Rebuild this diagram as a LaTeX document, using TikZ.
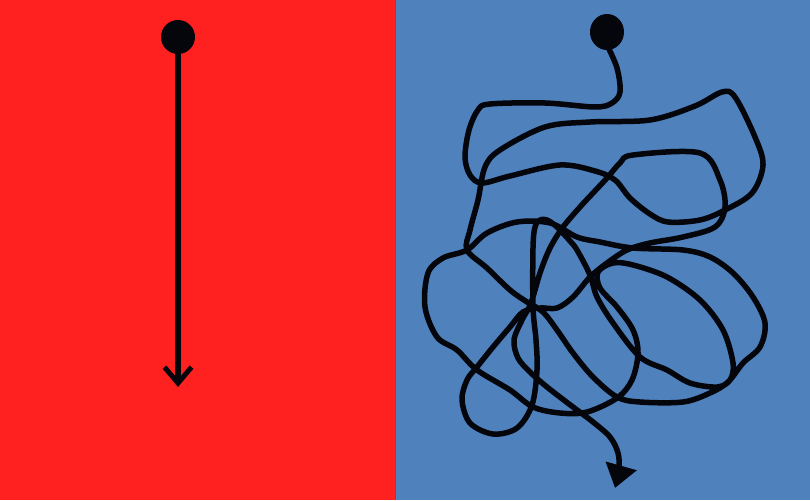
\documentclass[tikz,border=0pt]{standalone}
\usetikzlibrary{arrows.meta,shapes.geometric}
\definecolor{panelred}{RGB}{255,32,32}
\definecolor{panelblue}{RGB}{79,129,189}
\definecolor{ink}{RGB}{5,5,12}
\begin{document}
\begin{tikzpicture}[x=1pt,y=-1pt,
  dot/.style={circle,fill=ink,inner sep=0pt,minimum size=34pt},
  scribble/.style={line width=5.5pt,draw=ink,line join=round}]
\useasboundingbox (0,0) rectangle (810,500);
\fill[panelred] (0,0) rectangle (395,500);
\fill[panelblue] (395,0) rectangle (810,500);
\draw[gray!70!black,line width=1pt] (395,0) -- (395,500);
% left: straight route
\node[dot] (rdot) at (178,37) {};
\coordinate (rend) at (178,387);
\draw[scribble,-{Straight Barb[length=16pt,width=27pt,line width=5pt]}] (rdot.south) -- (rend);
% right: tangled route
\node[ellipse,fill=ink,inner sep=0pt,minimum width=34pt,minimum height=36pt] (bdot) at (607,32) {};
\draw[scribble,-{Triangle[length=23pt,width=31pt]}] plot[smooth,tension=0.55] coordinates {
(607,45) (617,68) (620,92) (612,103) (595,107) (545,103) (490,104) (478,110) (469,130) (465,157) (470,175) (482,183)
(510,176) (560,165) (595,171) (615,180) (630,198) (650,214) (668,222) (700,220) (725,210) (752,193) (763,165) (755,137) (735,97) (722,92) (695,106) (650,120) (590,122) (545,127) (500,150) (485,167) (478,200) (470,230) (467,250)
(487,268) (510,290) (527,302) (543,312) (557,330) (573,353) (593,377) (617,397) (640,402) (683,402) (710,393) (728,382) (743,363) (760,347) (765,323) (753,297) (733,273) (710,257) (683,250) (633,248) (600,242) (577,237) (550,223) (517,222) (487,233) (467,250)
(443,258) (428,273) (425,307) (437,337) (457,350) (477,370) (510,390) (533,407) (560,413) (587,412) (617,398) (632,380) (638,353) (633,330) (617,307) (600,288) (598,272)
(613,263) (633,265) (667,277) (700,300) (723,330) (733,363) (730,380) (717,387) (690,383) (667,370) (640,357) (613,323) (597,297) (590,275)
(577,250) (570,241) (557,227) (547,220) (540,220) (535,227) (533,248) (533,307) (536,340) (537,370) (532,405) (517,428) (493,434) (470,423) (462,400) (467,380) (477,367) (493,347) (510,327) (523,312)
(540,308) (557,308) (573,297) (590,277) (607,263) (627,250) (650,243) (683,237) (715,227) (725,207) (720,180) (700,153) (633,155) (620,163) (607,178) (593,193) (580,207) (563,227) (550,248) (540,273) (531,303)
(522,320) (514,340) (518,358) (530,372) (547,387) (573,407) (593,422) (610,437) (618,453) (619,470) (615,488)
};
\end{tikzpicture}
\end{document}
